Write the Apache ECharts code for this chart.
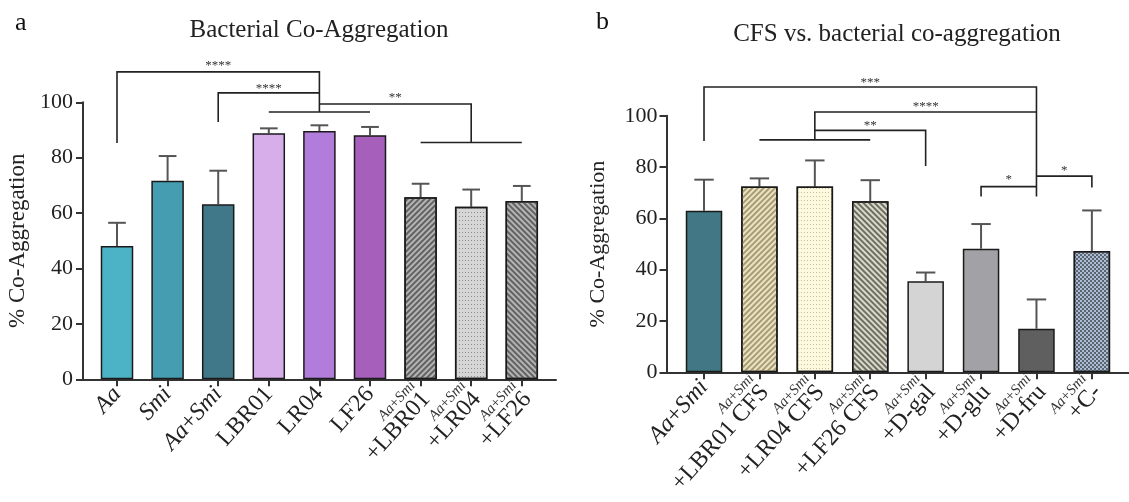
<!DOCTYPE html>
<html><head><meta charset="utf-8">
<script src="https://cdn.jsdelivr.net/npm/echarts@6/dist/echarts.min.js"></script>
<style>html,body{margin:0;padding:0;background:#fff}#c{width:1129px;height:502px}</style>
</head><body><div id="c"></div>
<script>
// ---------- data ----------
const catsA = ['Aa','Smi','Aa+Smi','LBR01','LR04','LF26','Aa+Smi\n+LBR01','Aa+Smi\n+LR04','Aa+Smi\n+LF26'];
const meanA = [48.1, 71.7, 63.2, 88.8, 89.6, 88.1, 65.7, 62.3, 64.4];
const sdA   = [8.4, 8.9, 12.1, 1.8, 2.1, 3.0, 4.9, 6.2, 5.4];

const catsB = ['Aa+Smi','Aa+Smi\n+LBR01 CFS','Aa+Smi\n+LR04 CFS','Aa+Smi\n+LF26 CFS','Aa+Smi\n+D-gal','Aa+Smi\n+D-glu','Aa+Smi\n+D-fru','Aa+Smi\n+C-'];
const meanB = [63.0, 72.4, 72.4, 66.7, 35.5, 48.2, 17.0, 47.3];
const sdB   = [12.1, 3.2, 10.2, 8.2, 3.4, 9.6, 11.4, 15.8];

const yTicks = [0, 20, 40, 60, 80, 100];

// significance brackets: vertices as [category index, value]
const bracketsA = [
  [[0,85.3],[0,111],[4,111],[4,96.5]],
  [[2,92.9],[2,103.4],[4,103.4]],
  [[4,99.4],[7,99.4],[7,85.5]],
  [[3,96.5],[5,96.5]],
  [[6,85.5],[8,85.5]]
];
const starsA = [[2,114.3,'****'],[3,106.2,'****'],[5.5,102.9,'**']];

const bracketsB = [
  [[0,90.2],[0,111.2],[6,111.2],[6,68.5]],
  [[2,90.6],[2,101.5],[6,101.5]],
  [[2,94.3],[4,94.3],[4,80.4]],
  [[1,90.6],[3,90.6]],
  [[5,68.5],[5,72.4],[6,72.4]],
  [[6,76.5],[7,76.5],[7,72]]
];
const starsB = [[3,114,'***'],[4,104.6,'****'],[3,97.5,'**'],[5.5,76.3,'*'],[6.5,79.7,'*']];

// ---------- styles ----------
const FONT = 'Liberation Serif';
const lines = (c, rot) => ({symbol:'rect', symbolSize:1, color:c, dashArrayX:[1,0], dashArrayY:[1.3,1.7], rotation:rot});
const dots  = (c) => ({symbol:'rect', symbolSize:1, color:c, dashArrayX:[1,2], dashArrayY:[1,2.4]});
const styleA = [
  {color:'#4cb3c6'}, {color:'#459db1'}, {color:'#40788a'},
  {color:'#d7aeea'}, {color:'#b27cdb'}, {color:'#a65fbb'},
  {color:'#b4b4b4', decal:lines('#626262', -Math.PI/4)},
  {color:'#d6d6d6', decal:dots('#8c8c8c')},
  {color:'#b4b4b4', decal:lines('#626262', Math.PI/4)}
];
const styleB = [
  {color:'#427786'},
  {color:'#ece3c3', decal:lines('#a89c74', -Math.PI/4)},
  {color:'#fcf9de', decal:dots('#c4c09a')},
  {color:'#dadacb', decal:lines('#6e6e62', Math.PI/4)},
  {color:'#d4d4d4'}, {color:'#a2a1a6'}, {color:'#5f5f5f'},
  {color:'#aabdd4', decal:{symbol:'rect', symbolSize:1, color:'#5c6470', dashArrayX:[[2,2],[0,2,2,0]], dashArrayY:[2,0]}}
];

function richLabel(s){
  const ls = s.split('\n');
  return ls.map((ln, k) => {
    const small = ls.length > 1 && k === 0;
    return ln.split(/(Aa|Smi)/).filter(t => t).map(t => {
      const it = (t === 'Aa' || t === 'Smi');
      return '{' + (small ? (it ? 'si' : 'sn') : (it ? 'i' : 'n')) + '|' + t + '}';
    }).join('');
  }).join('\n');
}
const rich = {
  i:{fontFamily:FONT, fontStyle:'italic', fontSize:24, color:'#222', lineHeight:21},
  n:{fontFamily:FONT, fontSize:24, color:'#222', lineHeight:21},
  si:{fontFamily:FONT, fontStyle:'italic', fontSize:15, color:'#333', lineHeight:15},
  sn:{fontFamily:FONT, fontSize:15, color:'#333', lineHeight:15}
};

function xAxisFor(gi, cats, lo, hi){
  const idx = cats.map((c, i) => i);
  return {
    type:'value', gridIndex:gi, min:lo, max:hi, splitLine:{show:false},
    axisLine:{onZero:false, lineStyle:{color:'#333', width:2}},
    axisTick:{show:true, customValues:idx, length:7, lineStyle:{color:'#333', width:2}},
    axisLabel:{show:true, customValues:idx, rotate:48, margin:11, rich:rich,
      showMinLabel:true, showMaxLabel:true, hideOverlap:false,
      formatter:(v) => richLabel(cats[Math.round(v)])}
  };
}
function yAxisFor(gi, gap, nameSize, lm){
  return {
    type:'value', gridIndex:gi, min:yTicks[0], max:yTicks[yTicks.length-1], interval:yTicks[1]-yTicks[0],
    name:'% Co-Aggregation', nameLocation:'middle', nameGap:gap,
    nameTextStyle:{fontFamily:FONT, fontSize:nameSize, color:'#222'},
    splitLine:{show:false},
    axisLine:{show:true, onZero:false, lineStyle:{color:'#333', width:2}},
    axisTick:{show:true, length:7, lineStyle:{color:'#333', width:2}},
    axisLabel:{fontFamily:FONT, fontSize:22, color:'#222', margin:lm}
  };
}
function barSeries(gi, means, styles, w){
  return {
    type:'bar', xAxisIndex:gi, yAxisIndex:gi, barWidth:w, z:3,
    data:means.map((m, i) => ({value:[i, m], itemStyle:Object.assign({borderColor:'#1a1a1a', borderWidth:1.5}, styles[i])}))
  };
}
function errSeries(gi, means, sds){
  return {
    type:'custom', xAxisIndex:gi, yAxisIndex:gi, z:2,
    data:means.map((m, i) => [i, m, m + sds[i]]),
    renderItem:(p, api) => {
      const a = api.coord([api.value(0), api.value(1)]);
      const b = api.coord([api.value(0), api.value(2)]);
      const hw = api.size([0.35, 0])[0] / 2;
      const st = {stroke:'#555', lineWidth:2};
      return {type:'group', children:[
        {type:'line', shape:{x1:a[0], y1:a[1], x2:b[0], y2:b[1]}, style:st},
        {type:'line', shape:{x1:b[0]-hw, y1:b[1], x2:b[0]+hw, y2:b[1]}, style:st}
      ]};
    }
  };
}
function bracketSeries(gi, brs){
  return {
    type:'custom', xAxisIndex:gi, yAxisIndex:gi, z:4, clip:false, silent:true,
    data:brs.map(b => b[0]),
    renderItem:(p, api) => {
      const pts = brs[p.dataIndex].map(q => api.coord(q));
      return {type:'polyline', shape:{points:pts}, style:{stroke:'#222', lineWidth:1.6, fill:null}};
    }
  };
}
function starSeries(gi, st){
  return {
    type:'custom', xAxisIndex:gi, yAxisIndex:gi, z:5, clip:false, silent:true,
    data:st.map(s => [s[0], s[1]]),
    renderItem:(p, api) => {
      const c = api.coord([api.value(0), api.value(1)]);
      return {type:'text', x:c[0], y:c[1] + 3, style:{text:st[p.dataIndex][2], fontFamily:FONT, fontSize:13, fill:'#333', align:'center', verticalAlign:'middle'}};
    }
  };
}

const chart = echarts.init(document.getElementById('c'), null, {renderer:'canvas'});
chart.setOption({
  animation:false,
  backgroundColor:'#fff',
  graphic:[
    {type:'text', x:15, y:23, style:{text:'a', fontFamily:FONT, fontSize:26, fill:'#111', verticalAlign:'middle'}},
    {type:'text', x:319, y:30, style:{text:'Bacterial Co-Aggregation', fontFamily:FONT, fontSize:25, fill:'#222', align:'center', verticalAlign:'middle'}},
    {type:'text', x:596, y:22, style:{text:'b', fontFamily:FONT, fontSize:26, fill:'#111', verticalAlign:'middle'}},
    {type:'text', x:897, y:34, style:{text:'CFS vs. bacterial co-aggregation', fontFamily:FONT, fontSize:25, fill:'#222', align:'center', verticalAlign:'middle'}}
  ],
  grid:[
    {left:83, top:102.3, width:473, height:277, outerBoundsMode:'none', containLabel:false},
    {left:666.5, top:115.8, width:462.5, height:256.5, outerBoundsMode:'none', containLabel:false}
  ],
  xAxis:[ xAxisFor(0, catsA, -0.672, 8.676), xAxisFor(1, catsB, -0.677, 7.67) ],
  yAxis:[ yAxisFor(0, 54, 23, 10), yAxisFor(1, 57, 22, 9) ],
  series:[
    barSeries(0, meanA, styleA, 32.5), errSeries(0, meanA, sdA), bracketSeries(0, bracketsA), starSeries(0, starsA),
    barSeries(1, meanB, styleB, 36.5), errSeries(1, meanB, sdB), bracketSeries(1, bracketsB), starSeries(1, starsB)
  ]
});
</script></body></html>
